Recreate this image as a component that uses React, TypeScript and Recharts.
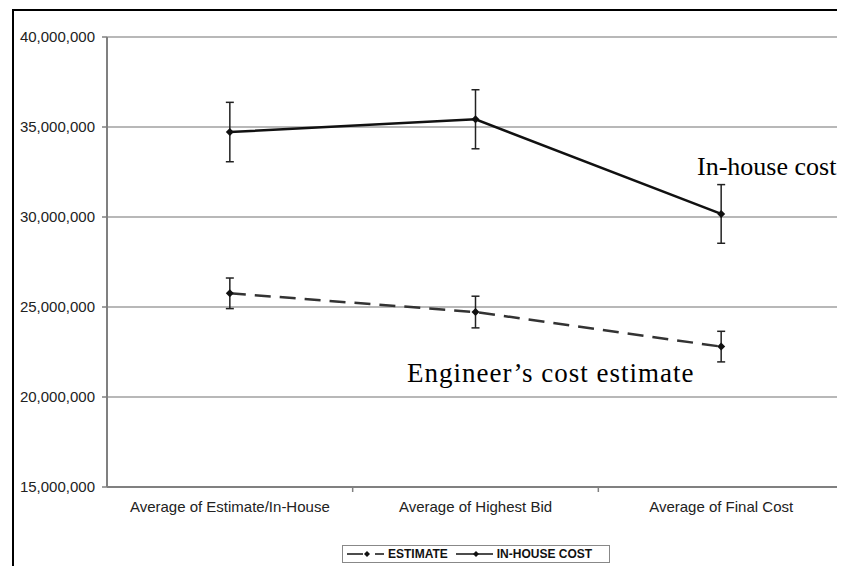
import React from 'react';
import { LineChart, Line, XAxis, YAxis, CartesianGrid, ErrorBar, Legend } from 'recharts';

const categories = ['Average of Estimate/In-House', 'Average of Highest Bid', 'Average of Final Cost'];
const estimateValues = [25760000, 24720000, 22800000];
const estimateErrors = [850000, 880000, 850000];
const inHouseValues = [34720000, 35430000, 30170000];
const inHouseErrors = [1650000, 1640000, 1630000];
const yTicks = [15000000, 20000000, 25000000, 30000000, 35000000, 40000000];

const chartData = categories.map((name, i) => ({
  name,
  estimate: estimateValues[i],
  estimateErr: estimateErrors[i],
  inHouse: inHouseValues[i],
  inHouseErr: inHouseErrors[i],
}));

const sans = 'Arial, "Liberation Sans", sans-serif';
const serif = '"Times New Roman", "Liberation Serif", serif';

const formatMoney = (v: number) => v.toLocaleString('en-US');

const Diamond = (props: any) => {
  const { cx, cy, index, dataKey } = props;
  if (cx == null || cy == null) return <g key={`${dataKey}-${index}`} />;
  return (
    <path
      key={`${dataKey}-${index}`}
      d={`M${cx},${cy - 4}L${cx + 4},${cy}L${cx},${cy + 4}L${cx - 4},${cy}Z`}
      fill="#111"
    />
  );
};

// label at band centre, small tick at the band boundary (excel style)
const CategoryTick = (props: any) => {
  const { x, y, payload } = props;
  const half = payload.offset || 0;
  return (
    <g>
      <line x1={x + half} x2={x + half} y1={y - 14} y2={y - 9} stroke="#808080" strokeWidth={1.5} />
      <text x={x} y={y} dy="0.71em" textAnchor="middle" fontSize={15} fill="#222" fontFamily={sans}>
        {payload.value}
      </text>
    </g>
  );
};

const LegendIcon = ({ dashed }: { dashed: boolean }) => (
  <svg width={40} height={10} style={{ display: 'block' }}>
    {dashed ? (
      <>
        <line x1={2} x2={18} y1={5} y2={5} stroke="#111" strokeWidth={1.5} />
        <line x1={30} x2={39} y1={5} y2={5} stroke="#111" strokeWidth={1.5} />
      </>
    ) : (
      <line x1={2} x2={39} y1={5} y2={5} stroke="#111" strokeWidth={1.5} />
    )}
    <path d="M22,2L25,5L22,8L19,5Z" fill="#111" />
  </svg>
);

const renderLegend = (props: any) => {
  const { payload = [] } = props;
  return (
    <div
      style={{
        display: 'flex',
        alignItems: 'center',
        boxSizing: 'border-box',
        width: 268,
        height: 18,
        border: '1px solid #888',
        padding: '0 2px',
        fontFamily: sans,
        fontSize: 12,
        fontWeight: 'bold',
        color: '#111',
        background: '#fff',
      }}
    >
      {payload.map((entry: any) => (
        <div key={entry.value} style={{ display: 'flex', alignItems: 'center', marginRight: 6 }}>
          <LegendIcon dashed={!!(entry.payload && entry.payload.strokeDasharray)} />
          <span style={{ marginLeft: 3 }}>{entry.value}</span>
        </div>
      ))}
    </div>
  );
};

export default function App() {
  return (
    <div style={{ position: 'relative', width: 837, height: 558, background: '#fff' }}>
      <div
        style={{
          position: 'absolute',
          left: 4,
          top: 1,
          width: 833,
          height: 557,
          borderLeft: '2px solid #000',
          borderTop: '2px solid #000',
          boxSizing: 'border-box',
        }}
      />
      <LineChart
        width={837}
        height={558}
        data={chartData}
        margin={{ top: 29, right: 1, left: 0, bottom: 0 }}
      >
        <CartesianGrid vertical={false} stroke="#a0a0a0" strokeWidth={1.5} />
        <XAxis
          dataKey="name"
          scale="band"
          height={79}
          tickLine={false}
          tickSize={5}
          tickMargin={9}
          axisLine={{ stroke: '#808080', strokeWidth: 2 }}
          tick={<CategoryTick />}
        />
        <YAxis
          width={99}
          domain={[15000000, 40000000]}
          ticks={yTicks}
          tickFormatter={formatMoney}
          tickSize={5}
          tickMargin={7}
          tickLine={{ stroke: '#808080', strokeWidth: 1.5 }}
          axisLine={{ stroke: '#808080', strokeWidth: 2 }}
          tick={{ fontSize: 15, fill: '#222', fontFamily: sans }}
        />
        <YAxis
          yAxisId="right"
          orientation="right"
          width={0}
          domain={[15000000, 40000000]}
          tick={false}
          tickLine={false}
          axisLine={{ stroke: '#a0a0a0', strokeWidth: 2 }}
        />
        <Legend
          layout="horizontal"
          verticalAlign="middle"
          align="center"
          wrapperStyle={{ left: 334, top: 537, width: 268, height: 18 }}
          content={renderLegend}
        />
        <Line
          type="linear"
          dataKey="estimate"
          name="ESTIMATE"
          stroke="#333"
          strokeWidth={2.5}
          strokeDasharray="16 9"
          dot={Diamond}
          activeDot={false}
          isAnimationActive={false}
        >
          <ErrorBar dataKey="estimateErr" direction="y" width={4} strokeWidth={1.5} stroke="#222" />
        </Line>
        <Line
          type="linear"
          dataKey="inHouse"
          name="IN-HOUSE COST"
          stroke="#111"
          strokeWidth={2.5}
          dot={Diamond}
          activeDot={false}
          isAnimationActive={false}
        >
          <ErrorBar dataKey="inHouseErr" direction="y" width={4} strokeWidth={1.5} stroke="#222" />
        </Line>
      </LineChart>
      <div
        style={{
          position: 'absolute',
          left: 689,
          top: 144,
          fontFamily: serif,
          fontSize: 26,
          color: '#000',
          whiteSpace: 'nowrap',
        }}
      >
        In-house cost
      </div>
      <div
        style={{
          position: 'absolute',
          left: 399,
          top: 350,
          fontFamily: serif,
          fontSize: 27,
          letterSpacing: 1,
          color: '#000',
          whiteSpace: 'nowrap',
        }}
      >
        Engineer’s cost estimate
      </div>
    </div>
  );
}
